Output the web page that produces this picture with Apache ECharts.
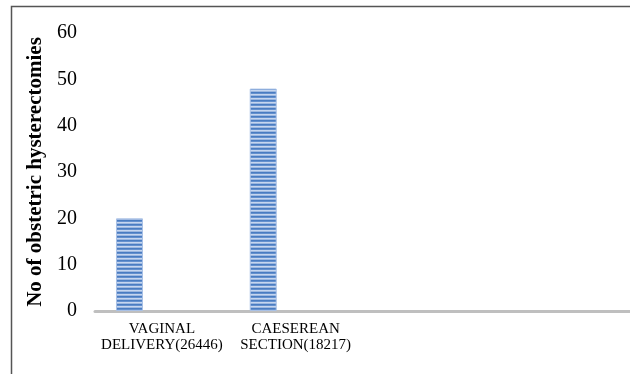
<!DOCTYPE html>
<html>
<head>
<meta charset="utf-8">
<script src="https://cdn.jsdelivr.net/npm/echarts@6/dist/echarts.min.js"></script>
<style>
  html, body { margin: 0; padding: 0; background: #fff; }
  #main { width: 630px; height: 374px; }
</style>
</head>
<body>
<div id="main"></div>
<script>
var categories = ['VAGINAL\nDELIVERY(26446)', 'CAESEREAN\nSECTION(18217)', '', ''];
var hysterectomies = [20, 48, null, null];
var yTicks = [0, 10, 20, 30, 40, 50, 60];

// horizontal stripe fill like the Excel pattern
var stripe = document.createElement('canvas');
stripe.width = 4;
stripe.height = 4;
var ctx = stripe.getContext('2d');
ctx.fillStyle = '#4a7cc1'; ctx.fillRect(0, 0, 4, 1);
ctx.fillStyle = '#6490ce'; ctx.fillRect(0, 1, 4, 1);
ctx.fillStyle = '#c6d6ef'; ctx.fillRect(0, 2, 4, 1);
ctx.fillStyle = '#9cb7e0'; ctx.fillRect(0, 3, 4, 1);

var myChart = echarts.init(document.getElementById('main'));

var option = {
    animation: false,
    textStyle: { fontFamily: 'Liberation Serif' },
    graphic: [{
        type: 'rect',
        shape: { x: 11.5, y: 6.5, width: 800, height: 600 },
        style: { fill: 'none', stroke: '#555', lineWidth: 1.5 }
    }],
    grid: { left: 95, right: 0, top: 33, bottom: 63 },
    xAxis: {
        type: 'category',
        data: categories,
        axisTick: { show: false },
        axisLine: { lineStyle: { color: '#bfbfbf', width: 3 } },
        axisLabel: {
            color: '#000',
            fontSize: 15,
            lineHeight: 16,
            margin: 10,
            interval: 0,
            fontFamily: 'Liberation Serif'
        }
    },
    yAxis: {
        type: 'value',
        min: yTicks[0],
        max: yTicks[yTicks.length - 1],
        interval: 10,
        name: 'No of obstetric hysterectomies',
        nameLocation: 'middle',
        nameGap: 47,
        nameTextStyle: {
            color: '#000',
            fontSize: 21,
            fontWeight: 'bold',
            fontFamily: 'Liberation Serif'
        },
        splitLine: { show: false },
        axisLine: { show: false },
        axisTick: { show: false },
        axisLabel: {
            color: '#000',
            fontSize: 20,
            margin: 18,
            fontFamily: 'Liberation Serif'
        }
    },
    series: [{
        name: 'Obstetric hysterectomies',
        type: 'bar',
        barWidth: 27,
        barGap: '140%',
        data: hysterectomies,
        itemStyle: {
            color: { image: stripe, repeat: 'repeat' },
            borderColor: '#a9c1e6',
            borderWidth: 1
        }
    }, {
        name: 'spacer',
        type: 'bar',
        barWidth: 27,
        data: []
    }]
};

myChart.setOption(option);
window.onresize = function () {
    myChart.resize();
};
</script>
</body>
</html>
